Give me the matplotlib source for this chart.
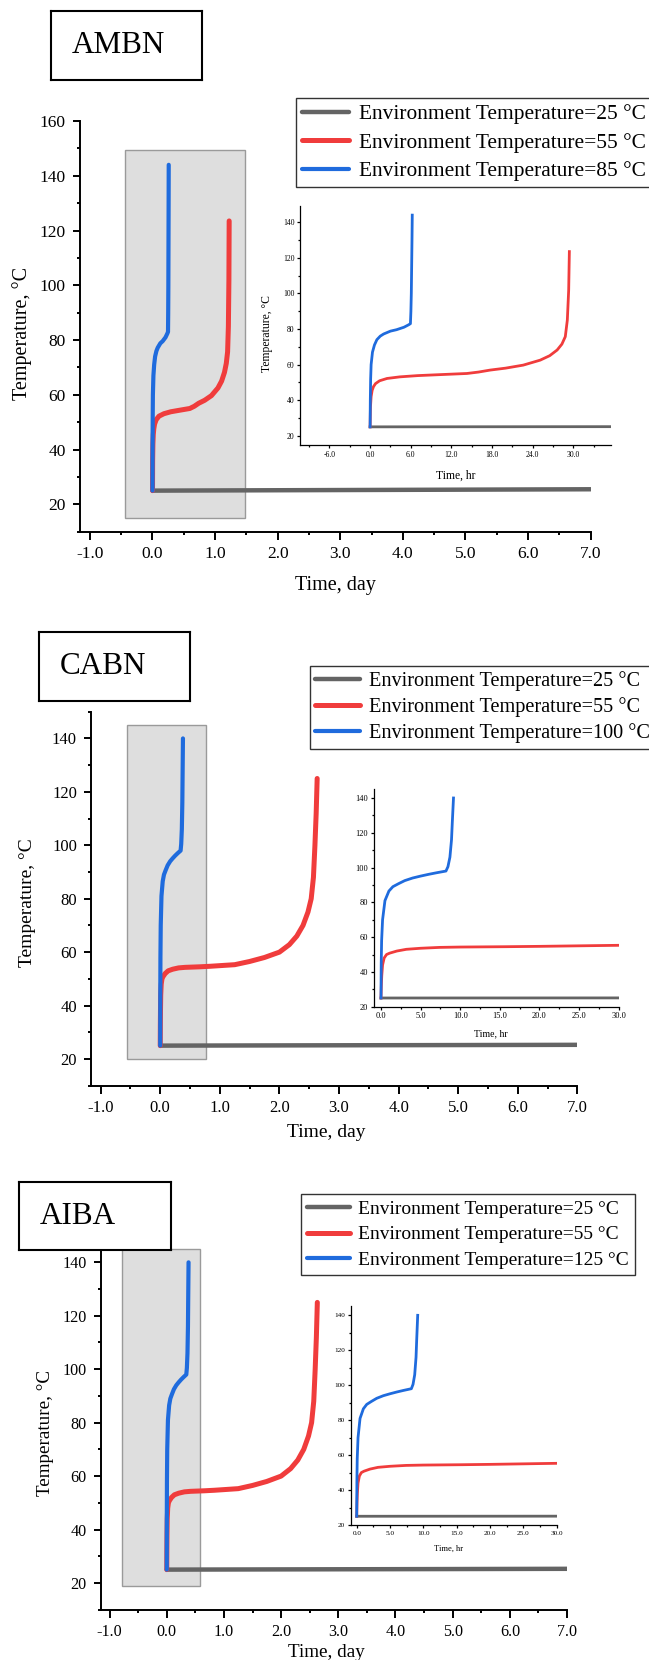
import matplotlib
matplotlib.use("Agg")
import matplotlib.pyplot as plt
from matplotlib.patches import Rectangle
from matplotlib.ticker import MultipleLocator, FormatStrFormatter

plt.rcParams["font.family"] = ["Liberation Serif", "DejaVu Serif"]
plt.rcParams["axes.unicode_minus"] = False

GRAY = "#646464"
RED = "#F03C3C"
BLUE = "#1F6BDD"

# --- data, time in hours (main plots show hours / 24 = days) ---
# AMBN
AMBN_GRAY_T = [0.0, 168.0]
AMBN_GRAY_Y = [25.0, 25.5]
AMBN_RED_T = [0, 0.05, 0.15, 0.3, 0.5, 0.8, 1.4, 2.5, 4.4, 7.0, 10.0, 14.3, 16.0,
              17.7, 20.0, 22.6, 25.1, 26.5, 27.6, 28.3, 28.8, 29.1, 29.3, 29.4]
AMBN_RED_Y = [25, 36, 42, 45.5, 47.6, 49.3, 50.9, 52.2, 53.1, 53.8, 54.3, 55.0, 55.8,
              56.9, 58.0, 59.7, 62.5, 65.0, 68.2, 71.5, 75.7, 85.0, 101.9, 123.5]
AMBN_BLUE_T = [0, 0.03, 0.08, 0.15, 0.35, 0.64, 1.0, 1.5, 2.0, 3.0, 3.9, 5.0, 5.7,
               5.95, 6.02, 6.08, 6.13, 6.18, 6.22]
AMBN_BLUE_Y = [25, 40, 52, 60, 67, 71, 74, 76, 77.2, 78.8, 79.6, 81, 82.4,
               83, 90, 100, 115, 130, 144]

# CABN
CABN_GRAY_T = [0.0, 168.0]
CABN_GRAY_Y = [25.0, 25.3]
CABN_RED_T = [0, 0.05, 0.1, 0.2, 0.4, 0.7, 1.1, 2.0, 3.2, 5.0, 7.4, 10.0, 15.8, 20.0,
              25.0, 30.0, 36.0, 42.0, 48.0, 52.0, 55.0, 57.5, 59.5, 60.8, 61.7, 62.3,
              62.8, 63.2]
CABN_RED_Y = [25, 33, 38, 44, 48, 50, 50.8, 52.0, 53.0, 53.6, 54.1, 54.3, 54.5, 54.7,
              55.0, 55.3, 56.5, 58.0, 60.0, 62.8, 66.0, 70.0, 75.0, 80.0, 88.0, 100.0,
              112.0, 125.0]
CABN_BLUE_T = [0, 0.03, 0.08, 0.2, 0.5, 1.0, 1.5, 2.2, 3.0, 4.0, 5.0, 6.0, 7.0, 8.2,
               8.45, 8.7, 8.9, 9.0, 9.15]
CABN_BLUE_Y = [25, 45, 58, 70, 81, 86.5, 89, 90.7, 92.5, 94, 95.1, 96.1, 97, 98,
               100.5, 106, 116, 126, 140]

# AIBA (curves read the same as CABN)
AIBA_GRAY_T = [0.0, 168.0]
AIBA_GRAY_Y = [25.0, 25.3]
AIBA_RED_T = list(CABN_RED_T)
AIBA_RED_Y = list(CABN_RED_Y)
AIBA_BLUE_T = list(CABN_BLUE_T)
AIBA_BLUE_Y = list(CABN_BLUE_Y)

NAMES = ["AMBN", "CABN", "AIBA"]
LEGEND_LABELS = [
    ["Environment Temperature=25 °C", "Environment Temperature=55 °C",
     "Environment Temperature=85 °C"],
    ["Environment Temperature=25 °C", "Environment Temperature=55 °C",
     "Environment Temperature=100 °C"],
    ["Environment Temperature=25 °C", "Environment Temperature=55 °C",
     "Environment Temperature=125 °C"],
]

W, H = 649, 1660


def fx(px):
    return px / W


def fy(py):
    return 1 - py / H


def style_axes(ax, fs, lw, tlen, mlen, pad):
    for s in ["top", "right"]:
        ax.spines[s].set_visible(False)
    for s in ["left", "bottom"]:
        ax.spines[s].set_linewidth(lw)
    ax.tick_params(which="major", direction="out", length=tlen, width=lw,
                   labelsize=fs, pad=pad)
    ax.tick_params(which="minor", direction="out", length=mlen, width=lw)


def draw_panel(fig, p, series, name, labels):
    # main axes
    ax = fig.add_axes([fx(p["main"][0]), fy(p["main"][3]),
                       fx(p["main"][2] - p["main"][0]),
                       (p["main"][3] - p["main"][1]) / H])
    x0, y0, x1, y1 = p["rect"]
    ax.add_patch(Rectangle((x0, y0), x1 - x0, y1 - y0, facecolor="#dedede",
                           edgecolor="#9a9a9a", lw=1.0, zorder=0))
    handles = []
    for (t, y), c, lw in zip(series, [GRAY, RED, BLUE], [3.2, 3.6, 3.0]):
        ln, = ax.plot([v / 24 for v in t], y, color=c, lw=lw,
                      solid_capstyle="round", zorder=2)
        handles.append(ln)
    ax.set_xlim(p["xlim"])
    ax.set_ylim(p["ylim"])
    ax.xaxis.set_major_locator(MultipleLocator(1))
    ax.xaxis.set_minor_locator(MultipleLocator(0.5))
    ax.xaxis.set_major_formatter(FormatStrFormatter("%.1f"))
    ax.yaxis.set_major_locator(MultipleLocator(20))
    ax.yaxis.set_minor_locator(MultipleLocator(10))
    style_axes(ax, p["tick_fs"], 1.4, 5.4, 2.4, 4.8)
    ax.set_xlabel("Time, day", fontsize=p["lab_fs"])
    ax.set_ylabel("Temperature, °C", fontsize=p["lab_fs"])
    ax.xaxis.set_label_coords(fx(p["xlab"][0]), fy(p["xlab"][1]),
                              transform=fig.transFigure)
    ax.yaxis.set_label_coords(fx(p["ylab"][0]), fy(p["ylab"][1]),
                              transform=fig.transFigure)

    # inset axes
    ins = fig.add_axes([fx(p["inset"][0]), fy(p["inset"][3]),
                        fx(p["inset"][2] - p["inset"][0]),
                        (p["inset"][3] - p["inset"][1]) / H])
    ins.set_facecolor("none")
    for (t, y), c in zip(series, [GRAY, RED, BLUE]):
        ins.plot(t, y, color=c, lw=2.0, zorder=2)
    ins.set_xlim(p["ixlim"])
    ins.set_ylim(p["iylim"])
    ins.xaxis.set_major_locator(MultipleLocator(p["ixmaj"]))
    ins.xaxis.set_minor_locator(MultipleLocator(p["ixmaj"] / 2))
    ins.xaxis.set_major_formatter(FormatStrFormatter("%.1f"))
    ins.yaxis.set_major_locator(MultipleLocator(20))
    ins.yaxis.set_minor_locator(MultipleLocator(10))
    style_axes(ins, p["itick_fs"], 0.9, 2.5, 1.5, 1.5)
    ins.set_xlabel("Time, hr", fontsize=p["ilab_fs"])
    ins.xaxis.set_label_coords(fx(p["ixlab"][0]), fy(p["ixlab"][1]),
                               transform=fig.transFigure)
    if p["iylab"] is not None:
        ins.set_ylabel("Temperature, °C", fontsize=p["ilab_fs"])
        ins.yaxis.set_label_coords(fx(p["iylab"][0]), fy(p["iylab"][1]),
                                   transform=fig.transFigure)

    # legend
    fig.legend(handles, labels, loc="upper left",
               bbox_to_anchor=(fx(p["leg"][0]), fy(p["leg"][1])),
               bbox_transform=fig.transFigure, frameon=True, fancybox=False,
               edgecolor="#333333", framealpha=1, borderaxespad=0,
               borderpad=0.29, handlelength=2.2, handletextpad=0.45,
               labelspacing=p["leg_sp"], prop={"size": p["leg_fs"]})

    # name box
    bx0, by0, bx1, by1 = p["box"]
    lab = fig.add_axes([fx(bx0), fy(by1), fx(bx1 - bx0), (by1 - by0) / H])
    lab.set_zorder(5)
    lab.set_xticks([])
    lab.set_yticks([])
    for s in lab.spines.values():
        s.set_linewidth(1.5)
    lab.text(0.14, 0.5, name, fontsize=22.4, va="center", ha="left",
             transform=lab.transAxes)


PANELS = [
    dict(main=(79.9, 121, 590.6, 531.7), xlim=(-1.16, 7.0), ylim=(10, 160),
         rect=(-0.44, 15, 1.47, 149.5), tick_fs=12.5, lab_fs=14.5,
         xlab=(335, 576), ylab=(32, 333),
         inset=(300.3, 205.7, 610.7, 445), ixlim=(-10.3, 35.5), iylim=(14.8, 149.3),
         ixmaj=6, itick_fs=5.5, ilab_fs=8.4, ixlab=(455.5, 470), iylab=(273, 333.7),
         leg=(296, 98), leg_fs=15.4, leg_sp=0.4, box=(50.9, 11, 202.4, 80)),
    dict(main=(91.1, 711.7, 577.4, 1085.7), xlim=(-1.16, 7.0), ylim=(10, 150),
         rect=(-0.55, 20, 0.77, 145), tick_fs=12, lab_fs=14,
         xlab=(326, 1124), ylab=(36, 903),
         inset=(373.7, 789.3, 618.7, 1006.7), ixlim=(-0.92, 30), iylim=(20, 145),
         ixmaj=5, itick_fs=6, ilab_fs=7.1, ixlab=(491, 1029), iylab=None,
         leg=(309.6, 665.7), leg_fs=14.6, leg_sp=0.3, box=(38.9, 632, 190.4, 701)),
    dict(main=(101, 1235.6, 567, 1609.7), xlim=(-1.15, 7.0), ylim=(10, 150),
         rect=(-0.78, 19, 0.59, 145), tick_fs=11.6, lab_fs=13.8,
         xlab=(326, 1644), ylab=(54, 1433),
         inset=(350.7, 1305.7, 556.7, 1525), ixlim=(-0.9, 30), iylim=(20, 145.5),
         ixmaj=5, itick_fs=5.2, ilab_fs=6.1, ixlab=(449, 1544.7), iylab=None,
         leg=(301.3, 1194.3), leg_fs=14, leg_sp=0.42, box=(19, 1182, 170.5, 1250.3)),
]

SERIES = [
    [(AMBN_GRAY_T, AMBN_GRAY_Y), (AMBN_RED_T, AMBN_RED_Y), (AMBN_BLUE_T, AMBN_BLUE_Y)],
    [(CABN_GRAY_T, CABN_GRAY_Y), (CABN_RED_T, CABN_RED_Y), (CABN_BLUE_T, CABN_BLUE_Y)],
    [(AIBA_GRAY_T, AIBA_GRAY_Y), (AIBA_RED_T, AIBA_RED_Y), (AIBA_BLUE_T, AIBA_BLUE_Y)],
]

fig = plt.figure(figsize=(W / 100, H / 100), dpi=100)
for p, s, n, l in zip(PANELS, SERIES, NAMES, LEGEND_LABELS):
    draw_panel(fig, p, s, n, l)

fig.savefig("out.png", dpi=100)
